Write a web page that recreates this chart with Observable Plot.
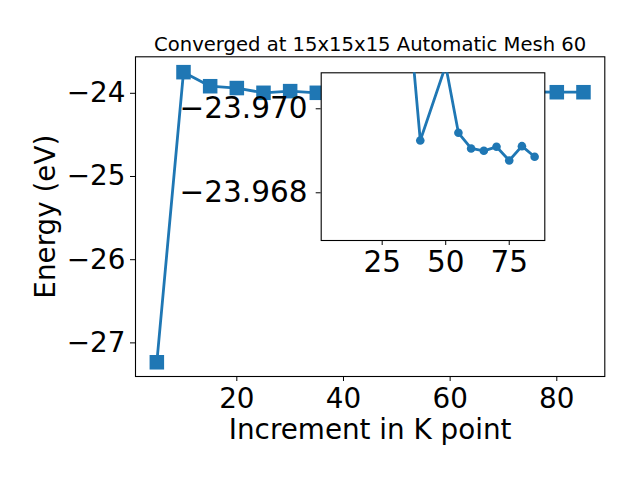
<!DOCTYPE html>
<html><head><meta charset="utf-8">
<script src="https://cdn.jsdelivr.net/npm/d3@7"></script>
<script src="https://cdn.jsdelivr.net/npm/@observablehq/plot@0.6"></script>
<style>
body{margin:0;background:white;}
#wrap{position:relative;width:640px;height:480px;}
#wrap svg{position:absolute;left:0;top:0;}
</style></head><body><div id="wrap"></div>
<script>
// Main series
const kPoints = [5, 10, 15, 20, 25, 30, 35, 40, 45, 50, 55, 60, 65, 70, 75, 80, 85];
const energy  = [-27.233, -23.746, -23.915, -23.937, -23.994, -23.974, -23.994, -23.985, -23.99, -23.99, -23.985, -23.985, -23.985, -23.985, -23.982, -23.987, -23.987];
// Inset series
const insetK = [35, 40, 50, 55, 60, 65, 70, 75, 80, 85];
const insetE = [-23.97263, -23.969245, -23.97103, -23.969429, -23.969055, -23.969, -23.969095, -23.968769, -23.96911, -23.968857];
// Ticks and labels
const xTicks = [20, 40, 60, 80];
const yTicks = [-27, -26, -25, -24];
const insetXTicks = [25, 50, 75];
const insetYTicks = [-23.970, -23.968];
const title = "Converged at 15x15x15 Automatic Mesh 60";
const xLabel = "Increment in K point";
const yLabel = "Energy (eV)";

const FONT = "DejaVu Sans";
const C0 = "#1f77b4";
const mainData = kPoints.map((k, i) => ({k, e: energy[i]}));
const insetData = insetK.map((k, i) => ({k, e: insetE[i]}));

const main = Plot.plot({
  width: 640, height: 480,
  marginLeft: 135, marginRight: 35.7, marginTop: 56.3, marginBottom: 104,
  style: {fontFamily: FONT, color: "black", background: "white", overflow: "visible"},
  x: {domain: [1, 89]},
  y: {domain: [-27.404, -23.5613]},
  marks: [
    Plot.line(mainData, {x: "k", y: "e", stroke: C0, strokeWidth: 2.8}),
    Plot.dot(mainData, {x: "k", y: "e", symbol: "square", r: 8.2, fill: C0, stroke: "none"}),
    Plot.frame({stroke: "black", strokeWidth: 1.1}),
    Plot.axisX({ticks: xTicks, tickSize: 5, tickPadding: 6.6, fontSize: 27.8, label: null}),
    Plot.axisY({ticks: yTicks, tickSize: 5, tickPadding: 5, fontSize: 27.8, label: null, tickFormat: d3.format("d")}),
    Plot.text([title], {text: d => d, frameAnchor: "top", dy: -6.3, lineAnchor: "bottom", fontSize: 19.6}),
    Plot.text([xLabel], {text: d => d, frameAnchor: "bottom", dy: 62, lineAnchor: "bottom", fontSize: 27.8}),
    Plot.text([yLabel], {text: d => d, frameAnchor: "left", textAnchor: "middle", dx: -81, rotate: -90, lineAnchor: "bottom", fontSize: 27.8})
  ]
});

const inset = Plot.plot({
  width: 640, height: 480,
  marginLeft: 320.7, marginRight: 95.7, marginTop: 72.3, marginBottom: 240,
  style: {fontFamily: FONT, color: "black", background: "transparent", overflow: "visible"},
  x: {domain: [1, 89]},
  y: {domain: [-23.966864, -23.970857]},
  marks: [
    Plot.frame({fill: "white", stroke: "black", strokeWidth: 1.1}),
    Plot.line(insetData, {x: "k", y: "e", stroke: C0, strokeWidth: 2.8, clip: true}),
    Plot.dot(insetData, {x: "k", y: "e", r: 4.3, fill: C0, stroke: "none", clip: true}),
    Plot.axisX({ticks: insetXTicks, tickSize: 5, tickPadding: 6, fontSize: 29.5, label: null}),
    Plot.axisY({ticks: insetYTicks, tickSize: 5, tickPadding: 8.7, fontSize: 29.5, label: null, tickFormat: d3.format(".3f")})
  ]
});

const wrap = document.getElementById("wrap");
wrap.appendChild(main);
wrap.appendChild(inset);
</script></body></html>
